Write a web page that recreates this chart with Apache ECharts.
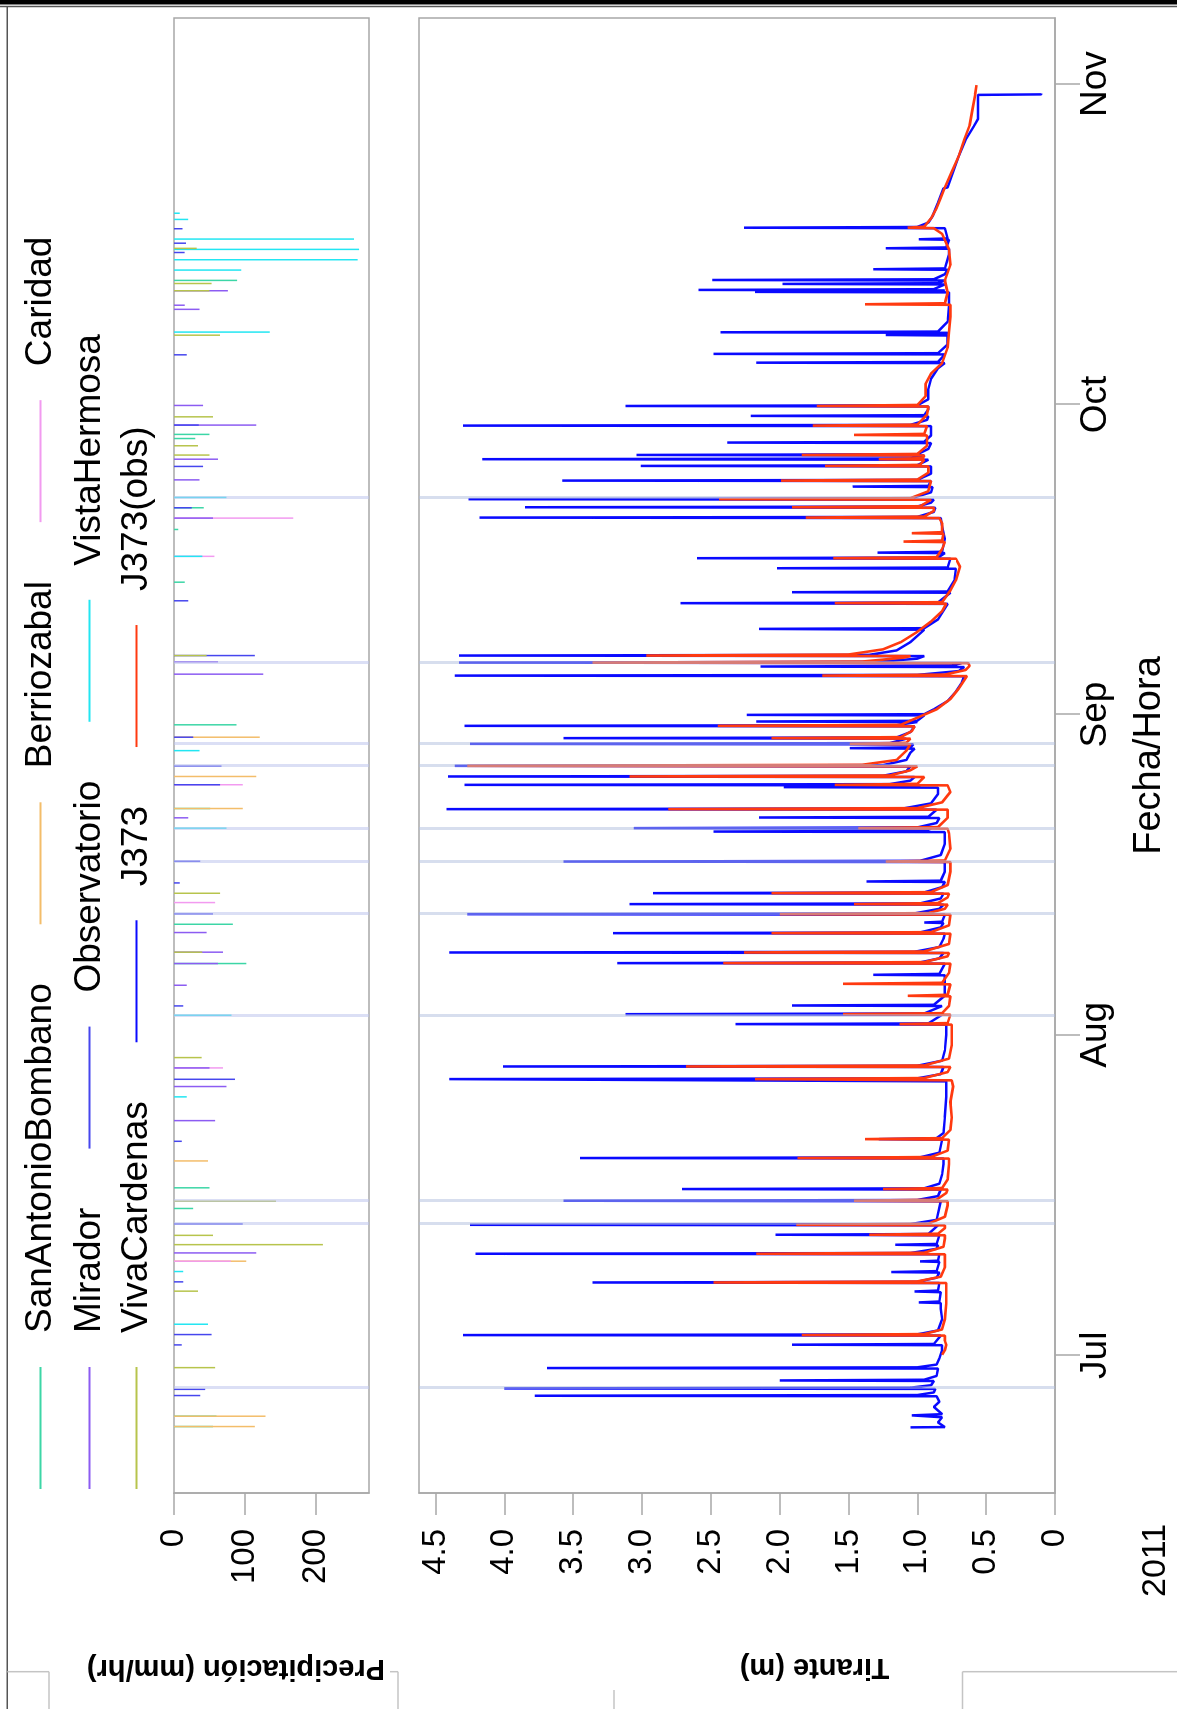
<!DOCTYPE html>
<html><head><meta charset="utf-8">
<script src="https://cdn.jsdelivr.net/npm/echarts@6/dist/echarts.min.js"></script>
<style>
html,body{margin:0;padding:0;background:#fff;}
#wrap{position:relative;width:1177px;height:1709px;overflow:hidden;background:#fff;}
#chart{position:absolute;left:0;top:0;width:1709px;height:1177px;transform-origin:0 0;transform:translate(0,1709px) rotate(-90deg);}
</style></head>
<body><div id="wrap"><div id="chart"></div></div>
<script>
// ---- data (time = days after 2011-07-01 00:00 UTC) ----
const T0 = Date.UTC(2011, 6, 1);
const DAY = 86400000;
const AXIS_DAYS = [-13.33, 129.39];
const monthDays = [0, 31, 62, 92, 123];
const monthLabels = ['Jul', 'Aug', 'Sep', 'Oct', 'Nov'];
const precipTicks = [0, 100, 200];
const depthTicks = [0, 0.5, 1, 1.5, 2, 2.5, 3, 3.5, 4, 4.5];
const yearLabel = '2011';

const SanAntonioBombano = [[-6.9,55],[-5.9,60],[14.2,27],[16.2,50],[37.9,102],[41.7,83],[52.9,51],[61.0,88],[74.8,15],[79.9,6],[82.0,42],[88.7,30],[89.1,50],[104.0,89]];
const Berriozabal = [[-6.9,114],[-5.9,129],[9.1,102],[18.8,48],[52.9,97],[56.0,116],[59.8,121]];
const Caridad = [[9.1,80],[27.8,69],[43.8,58],[55.2,97],[77.3,57],[81.0,168]];
const Mirador = [[9.9,116],[22.7,58],[26.0,74],[27.8,50],[35.8,18],[37.9,62],[39.0,69],[40.9,46],[52.0,20],[65.9,126],[67.1,62],[81.0,55],[84.7,36],[86.7,62],[90.0,116],[91.9,41],[101.2,36],[101.6,15],[103.0,76]];
const Observatorio = [[-3.9,37],[-3.3,44],[1.0,11],[2.0,53],[7.1,13],[12.7,97],[20.7,11],[26.7,86],[33.8,13],[42.7,55],[45.7,8],[47.8,37],[55.2,65],[57.0,67],[59.8,27],[67.7,114],[73.0,20],[82.0,25],[86.0,41],[90.0,35],[96.8,18],[106.7,15],[107.6,17],[109.0,12]];
const VistaHermosa = [[3.0,48],[8.1,13],[25.0,18],[32.9,81],[51.0,74],[58.5,36],[77.3,40],[83.0,74],[99.0,135],[105.0,95],[106.0,259],[107.0,261],[108.0,254],[109.9,20],[110.5,8]];
const VivaCardenas = [[-1.2,58],[6.2,34],[10.7,210],[11.6,55],[14.9,144],[28.8,39],[39.0,40],[44.7,65],[67.7,46],[87.1,50],[88.0,34],[90.8,55],[98.7,65],[103.0,50],[103.7,53],[107.1,32]];

const guideDays = [-3.14, 12.72, 14.90, 32.84, 42.71, 47.79, 50.98, 57.03, 59.16, 67.04, 82.95];

const J373 = [
[-6.98,1.05],[-6.95,0.80],[-6.5,0.85],[-6.0,0.82],[-5.82,1.04],[-5.7,0.82],[-5.0,0.88],[-4.5,0.84],[-3.97,0.86],
[-3.92,3.78],[-3.85,1.0],[-3.6,0.88],[-3.26,0.87],[-3.21,4.00],[-3.14,1.05],[-2.9,0.9],[-2.49,0.88],[-2.44,2.0],[-2.37,0.95],[-2.0,0.86],
[-1.29,0.85],[-1.24,3.69],[-1.17,1.0],[-0.9,0.86],[-0.3,0.84],[0.5,0.82],[0.97,0.82],[1.02,1.91],[1.09,0.88],
[1.9,0.83],[1.95,4.30],[2.02,1.0],[2.4,0.85],[3.5,0.82],[4.5,0.83],[5.05,0.83],[5.11,0.99],[5.2,0.84],
[6.1,0.83],[6.17,1.02],[6.26,0.85],[6.99,0.84],[7.04,3.36],[7.11,1.0],[7.5,0.86],[8.0,0.84],[8.05,1.19],[8.14,0.86],
[9.03,0.84],[9.08,0.98],[9.15,0.85],[9.77,0.84],[9.82,4.21],[9.89,1.05],[10.3,0.86],[10.64,0.85],[10.69,1.16],[10.77,0.86],
[11.61,0.84],[11.66,2.03],[11.73,0.92],[12.57,0.85],[12.62,4.25],[12.69,1.05],[13.1,0.86],
[14.9,0.83],[14.95,3.57],[15.02,1.0],[15.4,0.85],[16.03,0.83],[16.08,2.71],[16.15,0.95],[16.6,0.84],[17.5,0.82],[18.5,0.81],
[19.03,0.81],[19.08,3.45],[19.15,0.98],[19.6,0.84],[20.86,0.82],[20.91,1.28],[21.0,0.86],[21.5,0.81],[23,0.8],[25,0.79],[26.5,0.79],
[26.67,0.79],[26.72,4.40],[26.79,1.0],[27.2,0.83],[27.89,0.81],[27.94,4.01],[28.01,1.0],[28.5,0.82],[29.5,0.8],[31,0.79],
[31.99,0.79],[32.04,2.32],[32.11,0.92],[32.95,0.82],[33.0,3.12],[33.07,0.95],[33.79,0.82],[33.84,1.91],[33.91,0.88],[34.8,0.8],[36.0,0.8],
[36.76,0.8],[36.81,1.32],[36.9,0.84],[37.89,0.8],[37.94,3.18],[38.01,0.98],[38.4,0.84],[38.92,0.81],[38.97,4.40],[39.04,1.02],[39.5,0.84],[40.3,0.81],
[40.79,0.8],[40.84,3.21],[40.91,0.98],[41.4,0.83],[41.82,0.81],[41.87,0.95],[41.95,0.82],[42.63,0.8],[42.68,4.27],[42.75,1.02],[43.2,0.84],
[43.6,0.81],[43.65,3.09],[43.72,0.98],[44.2,0.83],[44.66,0.81],[44.71,2.92],[44.78,0.95],[45.3,0.82],[45.79,0.8],[45.84,1.37],[45.92,0.83],[46.8,0.8],
[47.72,0.8],[47.77,3.57],[47.84,0.98],[48.4,0.83],[49.5,0.8],[50.62,0.8],[50.67,2.48],[50.74,0.95],[50.95,0.9],[51.0,3.06],[51.07,1.0],[51.5,0.86],
[51.98,0.84],[52.03,2.15],[52.1,0.92],[52.79,0.86],[52.84,4.42],[52.91,1.1],[53.4,0.9],[54.3,0.85],[54.92,0.85],[54.97,1.97],[55.04,1.0],
[55.14,0.98],[55.19,4.29],[55.26,1.2],[55.6,1.05],[55.95,1.02],[56.0,4.41],[56.07,1.25],[56.5,1.08],[56.98,1.05],[57.03,4.36],[57.1,1.25],[57.6,1.08],[58.3,1.05],
[58.69,1.02],[58.74,1.49],[58.82,1.05],[59.11,1.03],[59.16,4.25],[59.23,1.2],[59.66,1.08],[59.71,3.57],[59.78,1.15],[60.3,1.05],
[60.85,1.02],[60.9,4.29],[60.97,1.15],[61.27,1.0],[61.32,2.17],[61.39,1.0],[61.91,0.95],[61.96,2.24],[62.03,0.95],[62.5,0.88],[63.3,0.78],[64.2,0.72],[65.0,0.68],[65.7,0.66],
[65.76,4.36],[65.83,1.0],[66.2,0.7],[66.59,0.66],[66.64,2.14],[66.71,0.75],[66.97,0.68],[67.02,4.33],[67.09,1.3],[67.4,1.0],[67.65,0.95],
[67.7,4.33],[67.77,1.35],[68.2,1.15],[69.0,1.05],[70.2,0.95],[70.28,2.15],[70.35,0.95],[71.2,0.85],[72.7,0.78],[72.77,2.72],[72.84,0.85],[73.78,0.76],
[73.83,1.91],[73.9,0.78],[75.0,0.73],[76.1,0.72],[76.15,2.02],[76.22,0.78],[77.07,0.76],[77.12,2.6],[77.19,0.85],[77.61,0.8],[77.66,1.29],[77.74,0.82],[79.0,0.8],[80.2,0.82],[81.0,0.83],
[81.05,4.18],[81.12,1.0],[81.6,0.88],[82.0,0.87],[82.05,3.85],[82.12,1.0],[82.5,0.9],[82.78,0.88],[82.83,4.26],[82.9,1.05],[83.5,0.9],[84.0,0.89],
[84.05,1.47],[84.12,0.92],[84.58,0.9],[84.63,3.58],[84.7,1.0],[85.3,0.9],[86.0,0.9],[86.05,3.01],[86.12,1.0],[86.65,0.92],[86.7,4.16],[86.77,1.05],[87.06,0.95],
[87.11,3.04],[87.18,1.0],[87.7,0.92],[88.26,0.9],[88.31,2.38],[88.38,0.95],[89.0,0.9],[89.9,0.9],[89.95,4.30],[90.02,1.05],[90.5,0.93],[90.84,0.92],
[90.89,2.21],[90.96,0.95],[91.5,0.92],[91.8,0.92],[91.85,3.12],[91.92,1.0],[92.5,0.92],[93.5,0.92],[94.5,0.9],[95.5,0.85],[96.0,0.8],
[96.04,2.17],[96.11,0.85],[96.84,0.8],[96.89,2.48],[96.96,0.85],[97.8,0.78],[98.67,0.78],[98.72,1.23],[98.8,0.8],[98.93,0.78],
[98.98,2.43],[99.05,0.85],[100,0.78],[101.5,0.77],[102.84,0.77],[102.89,2.18],[102.95,0.85],[103.03,0.8],[103.08,2.59],[103.15,0.88],[103.61,0.8],
[103.66,1.98],[103.73,0.85],[103.99,0.8],[104.04,2.49],[104.11,0.88],[104.6,0.8],[105.03,0.78],[105.08,1.32],[105.16,0.8],[106.5,0.77],[107.06,0.77],
[107.11,1.23],[107.19,0.79],[107.93,0.77],[107.98,0.99],[108.06,0.78],[109.05,0.8],[109.1,2.26],[109.17,1.0],[109.6,0.92],[110.2,0.89],[111.5,0.85],
[112.9,0.81],[113.0,0.78],[114.5,0.74],[116.0,0.70],[117.6,0.65],[118.9,0.59],[119.6,0.56],[121.95,0.56],[122.0,0.10],[122.08,0.10]
];

const J373obs = [
[0.05,0.82],[0.5,0.80],[1.0,0.79],[1.4,0.8],[1.9,0.8],[1.95,1.84],[2.05,0.95],[2.5,0.82],[3.5,0.8],[5,0.79],[6.5,0.79],
[6.99,0.79],[7.04,2.48],[7.14,1.0],[7.6,0.83],[8.5,0.8],[9.5,0.8],[9.77,0.8],[9.82,2.17],[9.92,0.95],[10.5,0.81],[11.3,0.8],
[11.61,0.8],[11.66,1.35],[11.76,0.85],[12.3,0.8],[12.57,0.8],[12.62,1.88],[12.72,0.92],[13.4,0.8],[14.5,0.78],
[14.9,0.78],[14.95,1.46],[15.05,0.86],[15.7,0.79],[16.03,0.78],[16.08,1.25],[16.18,0.82],[17,0.78],[18.5,0.77],
[19.03,0.77],[19.08,1.87],[19.18,0.9],[19.8,0.78],[20.86,0.77],[20.91,1.38],[21.01,0.82],[21.8,0.76],[23,0.75],[24.5,0.76],[26,0.74],[26.6,0.75],
[26.67,0.75],[26.72,2.18],[26.82,0.95],[27.4,0.78],[27.89,0.76],[27.94,2.68],[28.04,0.95],[28.7,0.77],[30,0.75],[31.5,0.75],
[31.99,0.75],[32.04,1.13],[32.14,0.78],[32.95,0.76],[33.0,1.54],[33.1,0.82],[33.8,0.77],[34.73,0.76],[34.78,1.07],[34.88,0.78],
[35.89,0.76],[35.94,1.54],[36.04,0.82],[37.0,0.77],[37.89,0.76],[37.94,2.41],[38.04,0.95],[38.6,0.78],[38.92,0.77],[38.97,2.26],[39.07,0.95],[39.8,0.77],
[40.79,0.76],[40.84,2.06],[40.94,0.9],[41.6,0.77],[42.63,0.76],[42.68,2.0],[42.78,0.92],[43.2,0.8],[43.6,0.78],[43.65,1.46],[43.75,0.85],[44.3,0.78],
[44.66,0.77],[44.71,2.06],[44.81,0.9],[45.5,0.78],[46.8,0.76],[47.72,0.76],[47.77,1.23],[47.87,0.8],[49,0.76],[50.5,0.77],
[50.95,0.78],[51.0,1.43],[51.1,0.85],[52,0.78],[52.79,0.78],[52.84,2.81],[52.94,1.0],[53.5,0.82],[54.5,0.76],
[55.14,0.78],[55.19,1.6],[55.29,1.0],[55.95,0.95],[56.0,3.09],[56.1,1.2],[56.6,1.05],[56.98,1.0],[57.03,4.27],[57.13,1.4],[57.6,1.15],[58.5,1.08],
[59.11,1.05],[59.16,1.49],[59.26,1.08],[59.66,1.05],[59.71,2.06],[59.81,1.12],[60.4,1.04],[60.85,1.02],[60.9,2.45],[61.0,1.12],[61.8,0.98],[62.5,0.86],[63.5,0.76],[64.5,0.7],[65.3,0.66],[65.71,0.64],
[65.76,1.69],[65.86,0.8],[66.3,0.65],[66.7,0.62],[66.97,0.63],[67.02,3.36],[67.12,1.4],[67.5,1.1],[67.65,1.05],
[67.7,2.97],[67.8,1.5],[68.3,1.25],[69.0,1.12],[70.0,1.0],[71.0,0.9],[72.0,0.82],[72.72,0.79],[72.77,1.6],[72.87,0.82],[74,0.76],[75.0,0.72],[76.3,0.69],[77.07,0.72],
[77.12,1.61],[77.22,0.86],[78.0,0.82],[78.68,0.8],[78.73,1.1],[78.83,0.82],[79.49,0.81],[79.54,1.04],[79.64,0.82],[80.5,0.82],[81.0,0.84],
[81.05,1.81],[81.15,0.95],[81.7,0.88],[82.0,0.88],[82.05,1.91],[82.15,0.98],[82.78,0.9],[82.83,2.44],[82.93,1.05],[83.6,0.92],[84.58,0.9],
[84.63,1.99],[84.73,1.0],[85.4,0.92],[86.0,0.92],[86.05,1.67],[86.15,0.98],[86.65,0.95],[86.7,1.28],[86.8,0.96],[87.06,0.95],
[87.11,1.84],[87.21,1.0],[88.0,0.93],[89.0,0.93],[89.05,1.46],[89.15,0.95],[89.9,0.93],[89.95,1.76],[90.05,1.0],[91.0,0.93],[91.8,0.92],
[91.85,1.73],[91.95,1.0],[92.8,0.94],[94.0,0.94],[95.0,0.9],[96,0.82],[97.5,0.78],[99,0.77],[100.5,0.76],[101.64,0.76],
[101.69,1.38],[101.79,0.8],[102.8,0.78],[104,0.8],[105.5,0.76],[107,0.77],[108.5,0.82],[109.05,0.88],[109.1,1.07],[109.2,0.95],
[110,0.9],[111,0.86],[112,0.83],[113,0.8],[114.5,0.75],[116,0.70],[117.6,0.66],[119,0.62],[120.5,0.60],[122.0,0.58],[122.9,0.57]
];

// ---- chart ----
const toT = d => T0 + d * DAY;
const pts = arr => arr.map(p => [toT(p[0]), p[1]]);
const FONT = '"Liberation Sans", Arial, Helvetica, sans-serif';
const monthT = monthDays.map(toT);
const TMIN = toT(AXIS_DAYS[0]), TMAX = toT(AXIS_DAYS[1]);
const AX = '#a8a8a8';

const stations = [
  ['SanAntonioBombano', SanAntonioBombano, '#3cd6a6'],
  ['Berriozabal', Berriozabal, '#f3bd6a'],
  ['Caridad', Caridad, '#f29af0'],
  ['Mirador', Mirador, '#8c5cf2'],
  ['Observatorio', Observatorio, '#4646ee'],
  ['VistaHermosa', VistaHermosa, '#22e6f2'],
  ['VivaCardenas', VivaCardenas, '#b7c44c']
];

const series = [];
series.push({type:'line', name:'guideTop', xAxisIndex:0, yAxisIndex:0, data:[], silent:true, z:1,
  markLine:{silent:true, symbol:'none', animation:false, label:{show:false},
    lineStyle:{color:'rgba(190,196,236,0.55)', width:3, type:'solid'},
    data: guideDays.map(d => ({xAxis: toT(d)}))}});
series.push({type:'line', name:'guideBottom', xAxisIndex:1, yAxisIndex:1, data:[], silent:true, z:1,
  markLine:{silent:true, symbol:'none', animation:false, label:{show:false},
    lineStyle:{color:'rgba(176,190,222,0.5)', width:3, type:'solid'},
    data: guideDays.map(d => ({xAxis: toT(d)}))}});
stations.forEach(s => series.push({
  type:'bar', name:s[0], xAxisIndex:0, yAxisIndex:0, data: pts(s[1]),
  barWidth:1.5, barGap:'-100%', itemStyle:{color:s[2]}, z:2
}));
series.push({type:'line', name:'J373', xAxisIndex:1, yAxisIndex:1, data: pts(J373),
  showSymbol:false, symbol:'none', lineStyle:{color:'#0a0aff', width:2.5}, itemStyle:{color:'#0a0aff'}, z:3});
series.push({type:'line', name:'J373(obs)', xAxisIndex:1, yAxisIndex:1, data: pts(J373obs),
  showSymbol:false, symbol:'none', lineStyle:{color:'#ff3a10', width:2.6}, itemStyle:{color:'#ff3a10'}, z:4});

const legendCommon = {orient:'horizontal', icon:'rect', itemWidth:122, itemHeight:2, itemGap:59,
  selectedMode:false, padding:0, textStyle:{fontSize:37, color:'#000', fontFamily:FONT, padding:[0,0,0,29]}};

// final (portrait) coordinates -> chart (landscape) coordinates
const L = (X, Y) => [1709 - Y, X];
function fline(X1, Y1, X2, Y2, color, w) {
  const a = L(X1, Y1), b = L(X2, Y2);
  return {type:'line', silent:true, shape:{x1:a[0], y1:a[1], x2:b[0], y2:b[1]}, style:{stroke:color, lineWidth:w}};
}
const monthName = v => { const i = monthT.findIndex(m => Math.abs(m - v) < 1000); return i >= 0 ? monthLabels[i] : ''; };

const option = {
  animation:false,
  backgroundColor:'#fff',
  textStyle:{fontFamily:FONT},
  legend:[
    Object.assign({}, legendCommon, {left:220, top:22, data:['SanAntonioBombano','Berriozabal','Caridad']}),
    Object.assign({}, legendCommon, {left:220, top:71, data:['Mirador','Observatorio','VistaHermosa']}),
    Object.assign({}, legendCommon, {left:220, top:118, data:['VivaCardenas','J373','J373(obs)']})
  ],
  grid:[
    {left:216, right:18, top:174, height:195, show:true, borderColor:AX, borderWidth:1.5},
    {left:216, right:18, top:419, height:636, show:true, borderColor:AX, borderWidth:1.5}
  ],
  xAxis:[
    {type:'value', gridIndex:0, min:TMIN, max:TMAX, axisLine:{show:false}, axisTick:{show:false}, axisLabel:{show:false}, splitLine:{show:false}},
    {type:'value', gridIndex:1, min:TMIN, max:TMAX,
      axisLine:{show:true, lineStyle:{color:AX, width:1.5}},
      axisTick:{show:true, length:25, customValues:monthT, lineStyle:{color:AX, width:1.5}},
      axisLabel:{customValues:monthT, fontSize:37, color:'#000', margin:22, fontFamily:FONT, formatter: monthName},
      splitLine:{show:false},
      name:'Fecha/Hora', nameLocation:'middle', nameGap:76,
      nameTextStyle:{fontSize:38, color:'#000', fontFamily:FONT}}
  ],
  yAxis:[
    {type:'value', gridIndex:0, inverse:true, min:0, max:275,
      axisLine:{show:true, lineStyle:{color:AX, width:1.5}},
      axisTick:{show:true, length:22, customValues:precipTicks, lineStyle:{color:AX, width:1.5}},
      axisLabel:{customValues:precipTicks, fontSize:33, color:'#000', margin:36, fontFamily:FONT},
      splitLine:{show:false}},
    {type:'value', gridIndex:1, min:0, max:4.62,
      axisLine:{show:true, lineStyle:{color:AX, width:1.5}},
      axisTick:{show:true, length:22, customValues:depthTicks, lineStyle:{color:AX, width:1.5}},
      axisLabel:{customValues:depthTicks, fontSize:33, color:'#000', margin:36, fontFamily:FONT,
        formatter: v => v === 0 ? '0' : v.toFixed(1)},
      splitLine:{show:false}}
  ],
  graphic:[
    {type:'rect', silent:true, shape:{x:1704.5, y:0, width:4.5, height:1177}, style:{fill:'#000'}},
    fline(0, 6.5, 1177, 6.5, '#555', 1.5),
    fline(7.3, 6.5, 7.3, 1709, '#555', 1.5),
    fline(7.3, 1671.7, 49, 1671.7, '#c4c4c4', 1.5),
    fline(49, 1671.7, 49, 1709, '#c4c4c4', 1.5),
    fline(390, 1671.7, 398, 1671.7, '#c4c4c4', 1.5),
    fline(398, 1671.7, 398, 1709, '#c4c4c4', 1.5),
    fline(614, 1690, 614, 1709, '#c4c4c4', 1.5),
    fline(962.5, 1671.7, 1177, 1671.7, '#c4c4c4', 1.5),
    fline(962.5, 1671.7, 962.5, 1709, '#c4c4c4', 1.5),
    {type:'text', silent:true, x:40.5, y:236, rotation:Math.PI/2,
      style:{text:'Precipitación (mm/hr)', fontSize:29, fontWeight:'bold', fontFamily:FONT, fill:'#000', align:'center', verticalAlign:'middle'}},
    {type:'text', silent:true, x:41.5, y:814.5, rotation:Math.PI/2,
      style:{text:'Tirante (m)', fontSize:29, fontWeight:'bold', fontFamily:FONT, fill:'#000', align:'center', verticalAlign:'middle'}},
    {type:'text', silent:true, x:112, y:1156,
      style:{text:yearLabel, fontSize:34, fontFamily:FONT, fill:'#000', align:'left', verticalAlign:'middle'}}
  ],
  series: series
};

const chart = echarts.init(document.getElementById('chart'), null, {renderer:'canvas', width:1709, height:1177});
chart.setOption(option);
</script></body></html>
